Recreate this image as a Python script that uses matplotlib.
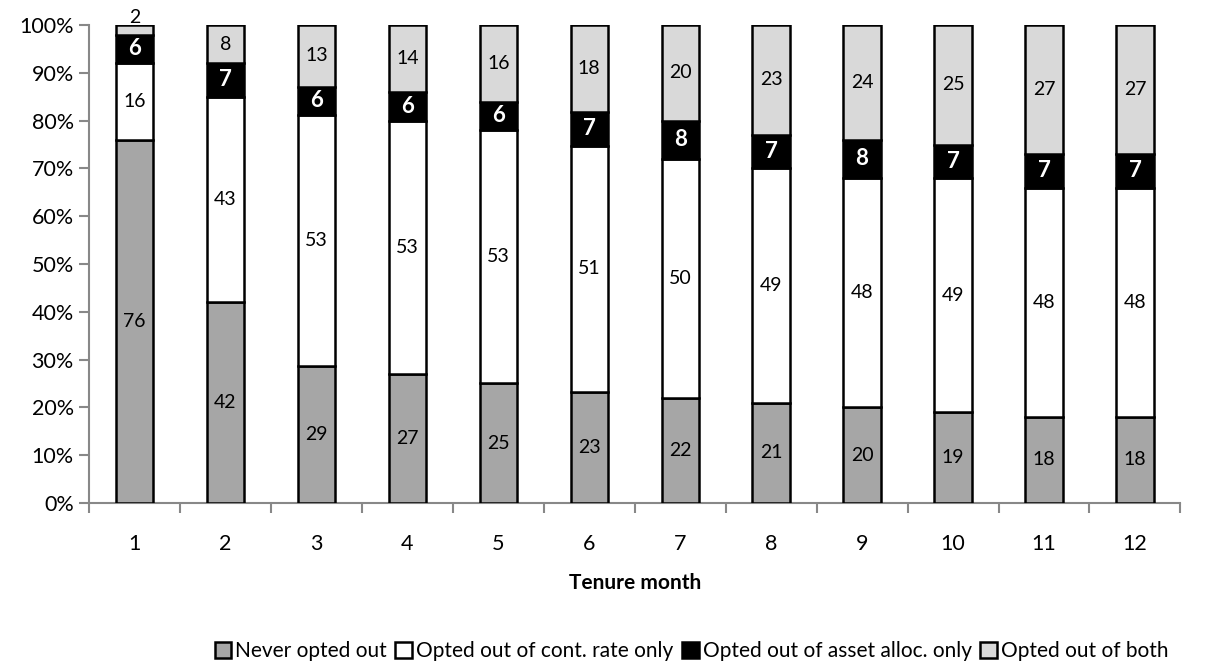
import numpy as np
import matplotlib.pyplot as plt

plt.rcParams['font.family'] = ['Lato', 'DejaVu Sans']

# Share of participants (%) by tenure month
months = [1, 2, 3, 4, 5, 6, 7, 8, 9, 10, 11, 12]
never_opted = [76, 42, 29, 27, 25, 23, 22, 21, 20, 19, 18, 18]
rate_only = [16, 43, 53, 53, 53, 51, 50, 49, 48, 49, 48, 48]
asset_only = [6, 7, 6, 6, 6, 7, 8, 7, 8, 7, 7, 7]
both = [2, 8, 13, 14, 16, 18, 20, 23, 24, 25, 27, 27]

series = [
    ('Never opted out', never_opted, '#a6a6a6', 'black', 'normal'),
    ('Opted out of cont. rate only', rate_only, 'white', 'black', 'normal'),
    ('Opted out of asset alloc. only', asset_only, 'black', 'white', 'bold'),
    ('Opted out of both', both, '#d9d9d9', 'black', 'normal'),
]

x = np.array(months)
totals = np.sum([s[1] for s in series], axis=0)

fig = plt.figure(figsize=(12.07, 6.71), dpi=100)
ax = fig.add_axes([0.0737, 0.2504, 0.9043, 0.7123])

bottom = np.zeros(len(x))
for name, vals, fc, tc, fw in series:
    h = np.array(vals) / totals * 100
    ax.bar(x, h, 0.41, bottom=bottom, color=fc, edgecolor='black', linewidth=1.8, label=name)
    for xi, b, hi, v in zip(x, bottom, h, vals):
        if hi < 4:
            ax.text(xi, b + hi - 0.1, str(v), ha='center', va='bottom', fontsize=14, color='black')
        else:
            ax.text(xi, b + hi / 2, str(v), ha='center', va='center', fontsize=16 if fw == 'bold' else 14,
                    color=tc, fontweight=fw)
    bottom += h

ax.set_xlim(0.5, 12.5)
ax.set_ylim(0, 100)
ax.set_yticks(np.arange(0, 101, 10))
ax.set_yticklabels([f'{v}%' for v in range(0, 101, 10)], fontsize=15.5)
ax.set_xticks(x)
ax.set_xticklabels([str(m) for m in months], fontsize=15.5)
ax.set_xticks(np.arange(0.5, 13, 1), minor=True)
ax.tick_params(axis='x', which='major', length=0, pad=22)
ax.tick_params(axis='x', which='minor', length=7, color='#888888', width=1.5, direction='out')
ax.tick_params(axis='y', length=7, color='#888888', width=1.5, direction='out', pad=4)
for s in ['top', 'right']:
    ax.spines[s].set_visible(False)
for s in ['left', 'bottom']:
    ax.spines[s].set_color('#888888')
    ax.spines[s].set_linewidth(1.5)
ax.spines['bottom'].set_zorder(0)

ax.set_xlabel('Tenure month', fontsize=15, fontweight='bold', labelpad=14)

ax.legend(loc='center', bbox_to_anchor=(0.552, -0.31), ncol=4, frameon=False, fontsize=15,
          handlelength=0.8, handleheight=0.8, handletextpad=0.2, columnspacing=0.4)

fig.savefig('out.png', dpi=100)
